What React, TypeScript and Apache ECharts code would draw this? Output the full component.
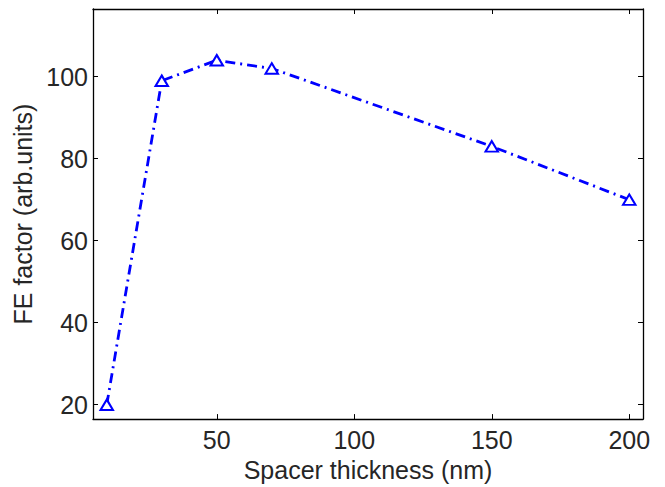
import React, { useEffect, useRef } from "react";
import * as echarts from "echarts";

const thickness = [10, 30, 50, 70, 150, 200];
const feFactor = [20, 99, 104, 102, 83, 70];
const xTicks = [50, 100, 150, 200];
const yTicks = [20, 40, 60, 80, 100];

const FONT = "'Liberation Sans', Arial, Helvetica, sans-serif";
const TXT = "#262626";

export default function App() {
  const ref = useRef<HTMLDivElement>(null);
  useEffect(() => {
    if (!ref.current) return;
    const chart = echarts.init(ref.current, undefined, { renderer: "svg" });
    const tickStyle = { show: true, inside: true, length: 5, lineStyle: { color: "#000", width: 1 } };
    const axisLine = { show: true, onZero: false, lineStyle: { color: "#000", width: 1.3 } };
    chart.setOption({
      animation: false,
      backgroundColor: "#fff",
      grid: { left: 93, right: 22, top: 9, bottom: 66, containLabel: false },
      xAxis: [
        {
          type: "value",
          min: 5,
          max: 205,
          position: "bottom",
          axisLine,
          axisTick: { ...tickStyle, customValues: xTicks },
          axisLabel: { customValues: xTicks, fontSize: 25, color: TXT, fontFamily: FONT, margin: 8 },
          splitLine: { show: false },
          name: "Spacer thickness (nm)",
          nameLocation: "middle",
          nameGap: 33,
          nameTextStyle: { fontSize: 25, color: TXT, fontFamily: FONT },
        },
        {
          type: "value",
          min: 5,
          max: 205,
          position: "top",
          axisLine,
          axisTick: { ...tickStyle, customValues: xTicks },
          axisLabel: { show: false },
          splitLine: { show: false },
        },
      ],
      yAxis: [
        {
          type: "value",
          min: 16.5,
          max: 116.5,
          position: "left",
          axisLine,
          axisTick: { ...tickStyle, customValues: yTicks },
          axisLabel: { customValues: yTicks, fontSize: 25, color: TXT, fontFamily: FONT, margin: 5 },
          splitLine: { show: false },
          name: "FE factor (arb.units)",
          nameLocation: "middle",
          nameGap: 55,
          nameTextStyle: { fontSize: 25, color: TXT, fontFamily: FONT },
        },
        {
          type: "value",
          min: 16.5,
          max: 116.5,
          position: "right",
          axisLine,
          axisTick: { ...tickStyle, customValues: yTicks },
          axisLabel: { show: false },
          splitLine: { show: false },
        },
      ],
      series: [
        {
          type: "line",
          data: thickness.map((x, i) => [x, feFactor[i]]),
          symbol: "emptyTriangle",
          symbolSize: [12.5, 10.5],
          showSymbol: true,
          lineStyle: { color: "#0000ff", width: 2.8, type: [10, 5, 2, 5] },
          itemStyle: { color: "#0000ff", borderColor: "#0000ff", borderWidth: 3.2 },
        },
      ],
    });
    return () => chart.dispose();
  }, []);
  return <div ref={ref} style={{ width: 665, height: 487, position: "absolute", left: 0, top: 0 }} />;
}
